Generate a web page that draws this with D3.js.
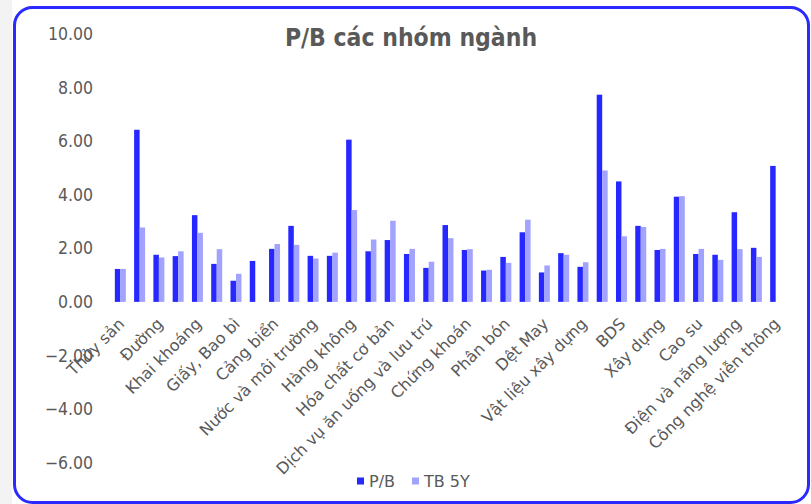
<!DOCTYPE html>
<html>
<head>
<meta charset="utf-8">
<script src="https://cdn.jsdelivr.net/npm/d3@7"></script>
<style>
  body { margin: 0; background: #ffffff; }
  svg { display: block; }
</style>
</head>
<body>
<script>
const width = 811;
const height = 504;

// 35 groups; Excel only shows every other label, the hidden ones are left blank
const categories = [
  "Thủy sản", "", "Đường", "", "Khai khoáng", "", "Giấy, Bao bì", "", "Cảng biển", "",
  "Nước và môi trường", "", "Hàng không", "", "Hóa chất cơ bản", "", "Dịch vụ ăn uống và lưu trú", "",
  "Chứng khoán", "", "Phân bón", "", "Dệt May", "", "Vật liệu xây dựng", "",
  "BDS", "", "Xây dựng", "", "Cao su", "", "Điện và năng lượng", "", "Công nghệ viễn thông"
];
const pbValues = [
  1.23, 6.43, 1.76, 1.71, 3.24, 1.42, 0.79, 1.53, 1.98, 2.84,
  1.72, 1.72, 6.06, 1.89, 2.31, 1.79, 1.27, 2.87, 1.94, 1.17,
  1.68, 2.60, 1.10, 1.82, 1.31, 7.74, 4.50, 2.84, 1.94, 3.93,
  1.79, 1.76, 3.35, 2.02, 5.08
];
const tb5yValues = [
  1.23, 2.78, 1.66, 1.89, 2.58, 1.97, 1.05, 0, 2.16, 2.13,
  1.62, 1.84, 3.43, 2.33, 3.03, 1.98, 1.50, 2.38, 1.97, 1.20,
  1.46, 3.07, 1.36, 1.76, 1.48, 4.91, 2.45, 2.80, 1.98, 3.95,
  1.98, 1.57, 1.97, 1.68, 0
];
const seriesNames = ["P/B", "TB 5Y"];
const seriesColors = ["#2727ff", "#a2a2ff"];
const yTicks = [-6, -4, -2, 0, 2, 4, 6, 8, 10];

const textColor = "#595959";
const condensed = "'DejaVu Sans Condensed', 'DejaVu Sans', sans-serif";

let svg = d3.select("body").append("svg")
    .attr("width", width)
    .attr("height", height);

// light strip to the left of the frame
svg.append("rect")
    .attr("x", 0).attr("y", 0)
    .attr("width", 12).attr("height", height)
    .attr("fill", "#f3f3f3");

svg.append("rect")
    .attr("x", 14.5).attr("y", 7.5)
    .attr("width", 794).attr("height", 495)
    .attr("rx", 18).attr("ry", 18)
    .attr("fill", "#ffffff")
    .attr("stroke", "#2a2aff")
    .attr("stroke-width", 3);

let scaleY = d3.scaleLinear()
    .domain([-6, 10])
    .range([462.5, 34.2]);

let scaleX = d3.scaleBand()
    .domain(d3.range(categories.length))
    .range([110.7, 785.3])
    .paddingInner(0)
    .paddingOuter(0);

let inner = d3.scaleBand()
    .domain([0, 1])
    .range([scaleX.bandwidth() * 0.215, scaleX.bandwidth() * 0.785]);

// title
svg.append("text")
    .attr("x", 411)
    .attr("y", 46)
    .attr("text-anchor", "middle")
    .attr("font-family", condensed)
    .attr("font-weight", "bold")
    .attr("font-size", 24.5)
    .attr("fill", textColor)
    .text("P/B các nhóm ngành");

// y axis (labels only)
let yAxis = d3.axisLeft(scaleY)
    .tickValues(yTicks)
    .tickFormat(d3.format(".2f"))
    .tickSize(0)
    .tickPadding(0);

let yG = svg.append("g")
    .attr("transform", "translate(93,0)")
    .call(yAxis);
yG.select(".domain").remove();
yG.selectAll("text")
    .attr("font-family", condensed)
    .attr("font-size", 17.5)
    .attr("fill", textColor);

// bars
let series = [pbValues, tb5yValues];
series.forEach(function(values, s) {
    svg.append("g").selectAll("rect")
        .data(values)
        .enter().append("rect")
        .attr("x", function(d, i) { return scaleX(i) + inner(s); })
        .attr("width", inner.bandwidth())
        .attr("y", function(d) { return scaleY(Math.max(d, 0)); })
        .attr("height", function(d) { return Math.abs(scaleY(d) - scaleY(0)); })
        .attr("fill", seriesColors[s]);
});

// x labels, rotated
let xAxis = d3.axisBottom(scaleX)
    .tickFormat(function(i) { return categories[i]; })
    .tickSize(0);

let xG = svg.append("g")
    .attr("transform", "translate(0," + scaleY(0) + ")")
    .call(xAxis);
xG.select(".domain").remove();
xG.selectAll("text")
    .attr("font-family", "'DejaVu Sans', sans-serif")
    .attr("font-size", 16)
    .attr("fill", textColor)
    .attr("text-anchor", "end")
    .attr("y", 0)
    .attr("dy", 0)
    .attr("transform", "translate(5,23) rotate(-45)");

// legend
let legend = svg.append("g").attr("transform", "translate(357,481)");
let legendX = [0, 55];
seriesNames.forEach(function(name, s) {
    let g = legend.append("g").attr("transform", "translate(" + legendX[s] + ",0)");
    g.append("rect")
        .attr("x", 0).attr("y", -3.5)
        .attr("width", 7).attr("height", 7)
        .attr("fill", seriesColors[s]);
    g.append("text")
        .attr("x", 12)
        .attr("y", 0)
        .attr("dy", "0.35em")
        .attr("font-family", "'DejaVu Sans', sans-serif")
        .attr("font-size", 16)
        .attr("fill", textColor)
        .text(name);
});
</script>
</body>
</html>
